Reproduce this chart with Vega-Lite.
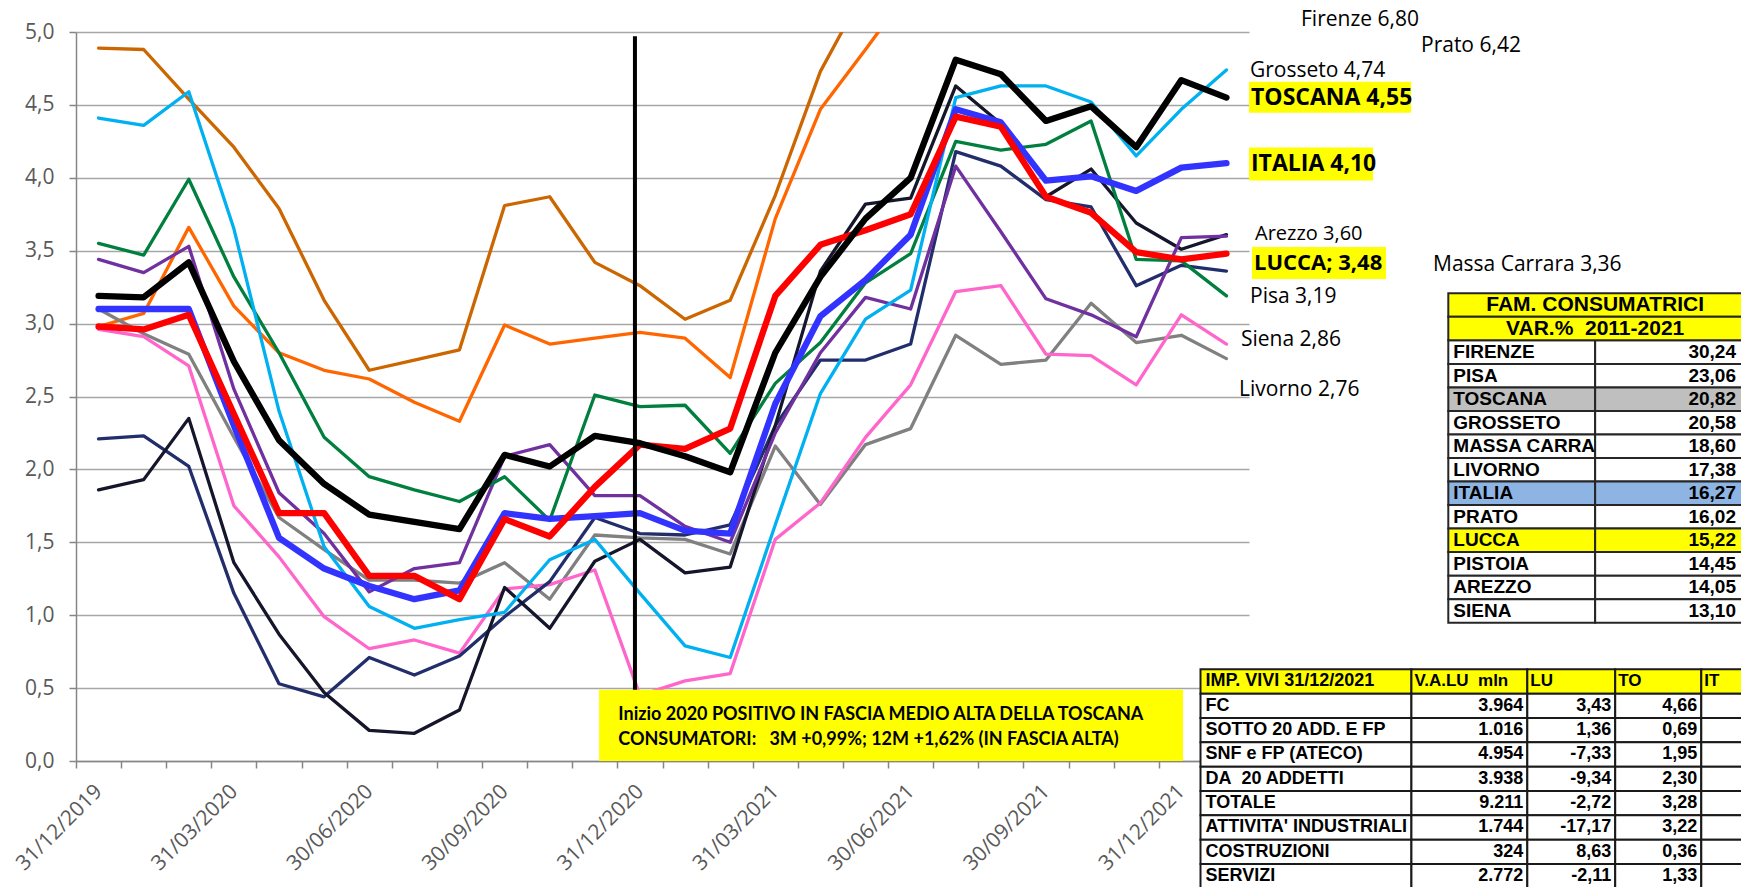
{
  "$schema": "https://vega.github.io/schema/vega-lite/v6.json",
  "width": 1173,
  "height": 729,
  "autosize": "none",
  "padding": {"left": 76, "top": 32, "right": 492, "bottom": 126},
  "background": "#FFFFFF",
  "config": {"view": {"stroke": null}},
  "datasets": {
    "s": [
      {"d":"31/12/2019","Firenze":4.89,"Prato":2.98,"Livorno":3.10,"Siena":2.96,"Massa Carrara":2.21,"Pistoia":1.86,"Arezzo":3.44,"Pisa":3.55,"Grosseto":4.41,"ITALIA":3.10,"LUCCA":2.98,"TOSCANA":3.19},
      {"d":"31/01/2020","Firenze":4.88,"Prato":3.07,"Livorno":2.93,"Siena":2.91,"Massa Carrara":2.23,"Pistoia":1.93,"Arezzo":3.35,"Pisa":3.47,"Grosseto":4.36,"ITALIA":3.10,"LUCCA":2.96,"TOSCANA":3.18},
      {"d":"29/02/2020","Firenze":4.54,"Prato":3.66,"Livorno":2.79,"Siena":2.71,"Massa Carrara":2.02,"Pistoia":2.35,"Arezzo":3.53,"Pisa":3.99,"Grosseto":4.59,"ITALIA":3.10,"LUCCA":3.06,"TOSCANA":3.42},
      {"d":"31/03/2020","Firenze":4.21,"Prato":3.12,"Livorno":2.22,"Siena":1.75,"Massa Carrara":1.15,"Pistoia":1.36,"Arezzo":2.55,"Pisa":3.32,"Grosseto":3.65,"ITALIA":2.30,"LUCCA":2.38,"TOSCANA":2.74},
      {"d":"30/04/2020","Firenze":3.79,"Prato":2.80,"Livorno":1.67,"Siena":1.40,"Massa Carrara":0.53,"Pistoia":0.87,"Arezzo":1.84,"Pisa":2.80,"Grosseto":2.40,"ITALIA":1.53,"LUCCA":1.70,"TOSCANA":2.20},
      {"d":"31/05/2020","Firenze":3.16,"Prato":2.68,"Livorno":1.45,"Siena":0.99,"Massa Carrara":0.44,"Pistoia":0.47,"Arezzo":1.56,"Pisa":2.22,"Grosseto":1.47,"ITALIA":1.32,"LUCCA":1.70,"TOSCANA":1.90},
      {"d":"30/06/2020","Firenze":2.68,"Prato":2.62,"Livorno":1.24,"Siena":0.77,"Massa Carrara":0.71,"Pistoia":0.21,"Arezzo":1.16,"Pisa":1.95,"Grosseto":1.06,"ITALIA":1.20,"LUCCA":1.27,"TOSCANA":1.69},
      {"d":"31/07/2020","Firenze":2.75,"Prato":2.46,"Livorno":1.24,"Siena":0.83,"Massa Carrara":0.59,"Pistoia":0.19,"Arezzo":1.32,"Pisa":1.86,"Grosseto":0.91,"ITALIA":1.11,"LUCCA":1.27,"TOSCANA":1.64},
      {"d":"31/08/2020","Firenze":2.82,"Prato":2.33,"Livorno":1.22,"Siena":0.74,"Massa Carrara":0.72,"Pistoia":0.35,"Arezzo":1.36,"Pisa":1.78,"Grosseto":0.97,"ITALIA":1.17,"LUCCA":1.11,"TOSCANA":1.59},
      {"d":"30/09/2020","Firenze":3.81,"Prato":2.99,"Livorno":1.36,"Siena":1.18,"Massa Carrara":0.99,"Pistoia":1.19,"Arezzo":2.09,"Pisa":1.95,"Grosseto":1.02,"ITALIA":1.70,"LUCCA":1.66,"TOSCANA":2.10},
      {"d":"31/10/2020","Firenze":3.87,"Prato":2.86,"Livorno":1.11,"Siena":1.21,"Massa Carrara":1.23,"Pistoia":0.91,"Arezzo":2.17,"Pisa":1.65,"Grosseto":1.38,"ITALIA":1.66,"LUCCA":1.54,"TOSCANA":2.02},
      {"d":"30/11/2020","Firenze":3.42,"Prato":2.90,"Livorno":1.55,"Siena":1.31,"Massa Carrara":1.67,"Pistoia":1.37,"Arezzo":1.82,"Pisa":2.51,"Grosseto":1.52,"ITALIA":1.68,"LUCCA":1.88,"TOSCANA":2.23},
      {"d":"31/12/2020","Firenze":3.26,"Prato":2.94,"Livorno":1.53,"Siena":0.45,"Massa Carrara":1.56,"Pistoia":1.52,"Arezzo":1.82,"Pisa":2.43,"Grosseto":1.15,"ITALIA":1.70,"LUCCA":2.17,"TOSCANA":2.18},
      {"d":"31/01/2021","Firenze":3.03,"Prato":2.90,"Livorno":1.52,"Siena":0.55,"Massa Carrara":1.55,"Pistoia":1.29,"Arezzo":1.61,"Pisa":2.44,"Grosseto":0.79,"ITALIA":1.58,"LUCCA":2.14,"TOSCANA":2.09},
      {"d":"28/02/2021","Firenze":3.16,"Prato":2.63,"Livorno":1.42,"Siena":0.60,"Massa Carrara":1.62,"Pistoia":1.33,"Arezzo":1.50,"Pisa":2.11,"Grosseto":0.71,"ITALIA":1.56,"LUCCA":2.28,"TOSCANA":1.98},
      {"d":"31/03/2021","Firenze":3.88,"Prato":3.72,"Livorno":2.16,"Siena":1.52,"Massa Carrara":2.30,"Pistoia":2.30,"Arezzo":2.25,"Pisa":2.59,"Grosseto":1.62,"ITALIA":2.45,"LUCCA":3.19,"TOSCANA":2.80},
      {"d":"30/04/2021","Firenze":4.73,"Prato":4.47,"Livorno":1.76,"Siena":1.77,"Massa Carrara":2.75,"Pistoia":3.36,"Arezzo":2.80,"Pisa":2.87,"Grosseto":2.52,"ITALIA":3.05,"LUCCA":3.54,"TOSCANA":3.32},
      {"d":"31/05/2021","Firenze":5.30,"Prato":4.88,"Livorno":2.17,"Siena":2.22,"Massa Carrara":2.75,"Pistoia":3.82,"Arezzo":3.18,"Pisa":3.28,"Grosseto":3.03,"ITALIA":3.30,"LUCCA":3.64,"TOSCANA":3.72},
      {"d":"30/06/2021","Firenze":5.70,"Prato":5.30,"Livorno":2.28,"Siena":2.58,"Massa Carrara":2.86,"Pistoia":3.86,"Arezzo":3.10,"Pisa":3.48,"Grosseto":3.23,"ITALIA":3.61,"LUCCA":3.75,"TOSCANA":4.00},
      {"d":"31/07/2021","Firenze":6.50,"Prato":6.10,"Livorno":2.92,"Siena":3.22,"Massa Carrara":4.18,"Pistoia":4.63,"Arezzo":4.08,"Pisa":4.25,"Grosseto":4.55,"ITALIA":4.47,"LUCCA":4.42,"TOSCANA":4.81},
      {"d":"31/08/2021","Firenze":6.60,"Prato":6.20,"Livorno":2.72,"Siena":3.26,"Massa Carrara":4.08,"Pistoia":4.37,"Arezzo":3.63,"Pisa":4.19,"Grosseto":4.63,"ITALIA":4.38,"LUCCA":4.35,"TOSCANA":4.71},
      {"d":"30/09/2021","Firenze":6.40,"Prato":6.00,"Livorno":2.75,"Siena":2.79,"Massa Carrara":3.85,"Pistoia":3.87,"Arezzo":3.17,"Pisa":4.23,"Grosseto":4.63,"ITALIA":3.98,"LUCCA":3.87,"TOSCANA":4.39},
      {"d":"31/10/2021","Firenze":6.60,"Prato":6.20,"Livorno":3.14,"Siena":2.78,"Massa Carrara":3.80,"Pistoia":4.06,"Arezzo":3.06,"Pisa":4.39,"Grosseto":4.52,"ITALIA":4.01,"LUCCA":3.76,"TOSCANA":4.49},
      {"d":"30/11/2021","Firenze":6.30,"Prato":5.90,"Livorno":2.87,"Siena":2.58,"Massa Carrara":3.26,"Pistoia":3.69,"Arezzo":2.91,"Pisa":3.44,"Grosseto":4.15,"ITALIA":3.91,"LUCCA":3.49,"TOSCANA":4.21},
      {"d":"31/12/2021","Firenze":6.90,"Prato":6.50,"Livorno":2.92,"Siena":3.06,"Massa Carrara":3.40,"Pistoia":3.51,"Arezzo":3.59,"Pisa":3.43,"Grosseto":4.47,"ITALIA":4.07,"LUCCA":3.44,"TOSCANA":4.67},
      {"d":"31/01/2022","Firenze":6.80,"Prato":6.42,"Livorno":2.76,"Siena":2.86,"Massa Carrara":3.36,"Pistoia":3.61,"Arezzo":3.60,"Pisa":3.19,"Grosseto":4.74,"ITALIA":4.10,"LUCCA":3.48,"TOSCANA":4.55}
    ],
    "t1": [
      {"r":"FIRENZE","v":"30,24"},{"r":"PISA","v":"23,06"},{"r":"TOSCANA","v":"20,82"},{"r":"GROSSETO","v":"20,58"},
      {"r":"MASSA CARRARA","v":"18,60"},{"r":"LIVORNO","v":"17,38"},{"r":"ITALIA","v":"16,27"},{"r":"PRATO","v":"16,02"},
      {"r":"LUCCA","v":"15,22"},{"r":"PISTOIA","v":"14,45"},{"r":"AREZZO","v":"14,05"},{"r":"SIENA","v":"13,10"}
    ],
    "t1h": [
      {"r":"H1","t":"FAM. CONSUMATRICI"},{"r":"H2","t":"VAR.%\u00a0\u00a02011-2021"}
    ],
    "t2": [
      {"r":"IMP. VIVI 31/12/2021","a":"V.A.LU\u00a0\u00a0mln","b":"LU","c":"TO","e":"IT"},
      {"r":"FC","a":"3.964","b":"3,43","c":"4,66","e":""},
      {"r":"SOTTO 20 ADD. E FP","a":"1.016","b":"1,36","c":"0,69","e":""},
      {"r":"SNF e FP (ATECO)","a":"4.954","b":"-7,33","c":"1,95","e":""},
      {"r":"DA\u00a0\u00a020 ADDETTI","a":"3.938","b":"-9,34","c":"2,30","e":""},
      {"r":"TOTALE","a":"9.211","b":"-2,72","c":"3,28","e":""},
      {"r":"ATTIVITA' INDUSTRIALI","a":"1.744","b":"-17,17","c":"3,22","e":""},
      {"r":"COSTRUZIONI","a":"324","b":"8,63","c":"0,36","e":""},
      {"r":"SERVIZI","a":"2.772","b":"-2,11","c":"1,33","e":""}
    ]
  },
  "layer": [
    {
      "layer": [
        {
          "data": {"name": "s"},
          "transform": [{"fold": ["Firenze","Prato","Livorno","Siena","Massa Carrara","Pistoia","Arezzo","Pisa","Grosseto"], "as": ["serie","v"]}],
          "mark": {"type": "line", "strokeWidth": 3.3, "clip": true, "strokeJoin": "round", "strokeCap": "round"},
          "encoding": {
            "x": {"field": "d", "type": "ordinal", "bandPosition": 0.5,
                  "scale": {"type": "band", "paddingInner": 0, "paddingOuter": 0,
                            "domain": ["31/12/2019","31/01/2020","29/02/2020","31/03/2020","30/04/2020","31/05/2020","30/06/2020","31/07/2020","31/08/2020","30/09/2020","31/10/2020","30/11/2020","31/12/2020","31/01/2021","28/02/2021","31/03/2021","30/04/2021","31/05/2021","30/06/2021","31/07/2021","31/08/2021","30/09/2021","31/10/2021","30/11/2021","31/12/2021","31/01/2022"]},
                  "axis": {"title": null, "tickBand": "extent", "labelAngle": -45, "labelOverlap": false,
                           "labelAlign": "right", "labelBaseline": "middle", "labelOffset": 0, "labelPadding": 20,
                           "labelExpr": "indexof(['03','06','09','12'], substring(datum.value, 3, 5)) >= 0 ? datum.value : ''",
                           "labelFont": "Open Sans", "labelFontSize": 21, "labelColor": "#595959",
                           "tickSize": 7, "tickColor": "#868686", "tickWidth": 1.5,
                           "domainColor": "#868686", "domainWidth": 1.5, "grid": false}},
            "y": {"field": "v", "type": "quantitative",
                  "scale": {"domain": [0, 5], "nice": false},
                  "axis": {"title": null, "values": [0,0.5,1,1.5,2,2.5,3,3.5,4,4.5,5],
                           "labelExpr": "replace(format(datum.value, '.1f'), '.', ',')",
                           "labelFont": "Open Sans", "labelFontSize": 21, "labelColor": "#595959",
                           "grid": true, "gridColor": "#A6A6A6", "gridWidth": 1.7,
                           "tickSize": 7, "tickColor": "#868686", "tickWidth": 1.5,
                           "domainColor": "#868686", "domainWidth": 1.5, "labelPadding": 15}},
            "color": {"field": "serie", "type": "nominal", "legend": null,
                      "scale": {"domain": ["Firenze","Prato","Livorno","Siena","Massa Carrara","Pistoia","Arezzo","Pisa","Grosseto","ITALIA","LUCCA","TOSCANA"],
                                "range": ["#CC6600","#FF6600","#808080","#FF66CC","#222E6B","#15152B","#7030A0","#007F3F","#00B0F0","#3333FF","#FF0000","#000000"]}}
          }
        },
        {
          "data": {"name": "s"},
          "transform": [{"fold": ["ITALIA","LUCCA","TOSCANA"], "as": ["serie","v"]}],
          "mark": {"type": "line", "strokeWidth": 6.3, "clip": true, "strokeJoin": "round", "strokeCap": "round"},
          "encoding": {
            "x": {"field": "d", "type": "ordinal", "bandPosition": 0.5},
            "y": {"field": "v", "type": "quantitative"},
            "color": {"field": "serie", "type": "nominal", "legend": null}
          }
        },
        {
          "data": {"values": [{}]},
          "mark": {"type": "rule", "color": "#000000", "strokeWidth": 4, "xOffset": -5},
          "encoding": {
            "x": {"datum": "31/12/2020", "type": "ordinal", "bandPosition": 0.5},
            "y": {"datum": 0, "type": "quantitative"},
            "y2": {"datum": 4.97}
          }
        },
        {
          "data": {"values": [{}]},
          "mark": {"type": "rect", "color": "#FFFF00"},
          "encoding": {
            "x": {"datum": "30/11/2020", "type": "ordinal", "bandPosition": 0.594},
            "x2": {"datum": "31/12/2021", "bandPosition": 0.537},
            "y": {"datum": 0.489, "type": "quantitative"},
            "y2": {"datum": 0}
          }
        },
        {
          "data": {"values": [{}]},
          "mark": {"type": "text", "text": "Inizio 2020 POSITIVO IN FASCIA MEDIO ALTA DELLA TOSCANA", "align": "left", "baseline": "middle", "font": "Lato", "fontWeight": "bold", "fontSize": 18, "color": "#000000"},
          "encoding": {
            "x": {"datum": "31/12/2020", "type": "ordinal", "bandPosition": 0.02},
            "y": {"datum": 0.318, "type": "quantitative"}
          }
        },
        {
          "data": {"values": [{}]},
          "mark": {"type": "text", "text": "CONSUMATORI:\u00a0\u00a0\u00a03M +0,99%; 12M +1,62% (IN FASCIA ALTA)", "align": "left", "baseline": "middle", "font": "Lato", "fontWeight": "bold", "fontSize": 18, "color": "#000000"},
          "encoding": {
            "x": {"datum": "31/12/2020", "type": "ordinal", "bandPosition": 0.02},
            "y": {"datum": 0.146, "type": "quantitative"}
          }
        },
        {
          "data": {"values": [{}]},
          "mark": {"type": "rect", "color": "#FFFF00", "x2Offset": 162},
          "encoding": {
            "x": {"datum": "31/01/2022", "type": "ordinal", "bandPosition": 1},
            "x2": {"datum": "31/01/2022", "bandPosition": 1},
            "y": {"datum": 4.658, "type": "quantitative"},
            "y2": {"datum": 4.446}
          }
        },
        {
          "data": {"values": [{}]},
          "mark": {"type": "rect", "color": "#FFFF00", "x2Offset": 124},
          "encoding": {
            "x": {"datum": "31/01/2022", "type": "ordinal", "bandPosition": 1},
            "x2": {"datum": "31/01/2022", "bandPosition": 1},
            "y": {"datum": 4.207, "type": "quantitative"},
            "y2": {"datum": 3.981}
          }
        },
        {
          "data": {"values": [{}]},
          "mark": {"type": "rect", "color": "#FFFF00", "xOffset": 3, "x2Offset": 137},
          "encoding": {
            "x": {"datum": "31/01/2022", "type": "ordinal", "bandPosition": 1},
            "x2": {"datum": "31/01/2022", "bandPosition": 1},
            "y": {"datum": 3.525, "type": "quantitative"},
            "y2": {"datum": 3.306}
          }
        },
        {"data": {"values": [{}]}, "mark": {"type": "text", "text": "Firenze 6,80", "align": "left", "baseline": "middle", "dx": 52, "font": "Open Sans", "fontSize": 21, "color": "#000000"},
         "encoding": {"x": {"datum": "31/01/2022", "type": "ordinal", "bandPosition": 1}, "y": {"datum": 5.085, "type": "quantitative"}}},
        {"data": {"values": [{}]}, "mark": {"type": "text", "text": "Prato 6,42", "align": "left", "baseline": "middle", "dx": 172, "font": "Open Sans", "fontSize": 21, "color": "#000000"},
         "encoding": {"x": {"datum": "31/01/2022", "type": "ordinal", "bandPosition": 1}, "y": {"datum": 4.907, "type": "quantitative"}}},
        {"data": {"values": [{}]}, "mark": {"type": "text", "text": "Grosseto 4,74", "align": "left", "baseline": "middle", "dx": 1, "font": "Open Sans", "fontSize": 21, "color": "#000000"},
         "encoding": {"x": {"datum": "31/01/2022", "type": "ordinal", "bandPosition": 1}, "y": {"datum": 4.735, "type": "quantitative"}}},
        {"data": {"values": [{}]}, "mark": {"type": "text", "text": "TOSCANA 4,55", "align": "left", "baseline": "middle", "dx": 2, "font": "Open Sans", "fontWeight": "bold", "fontSize": 23, "color": "#000000"},
         "encoding": {"x": {"datum": "31/01/2022", "type": "ordinal", "bandPosition": 1}, "y": {"datum": 4.549, "type": "quantitative"}}},
        {"data": {"values": [{}]}, "mark": {"type": "text", "text": "ITALIA 4,10", "align": "left", "baseline": "middle", "dx": 2, "font": "Open Sans", "fontWeight": "bold", "fontSize": 23, "color": "#000000"},
         "encoding": {"x": {"datum": "31/01/2022", "type": "ordinal", "bandPosition": 1}, "y": {"datum": 4.097, "type": "quantitative"}}},
        {"data": {"values": [{}]}, "mark": {"type": "text", "text": "Arezzo 3,60", "align": "left", "baseline": "middle", "dx": 6, "font": "Open Sans", "fontSize": 20, "color": "#000000"},
         "encoding": {"x": {"datum": "31/01/2022", "type": "ordinal", "bandPosition": 1}, "y": {"datum": 3.615, "type": "quantitative"}}},
        {"data": {"values": [{}]}, "mark": {"type": "text", "text": "LUCCA; 3,48", "align": "left", "baseline": "middle", "dx": 5, "font": "Open Sans", "fontWeight": "bold", "fontSize": 22, "color": "#000000"},
         "encoding": {"x": {"datum": "31/01/2022", "type": "ordinal", "bandPosition": 1}, "y": {"datum": 3.415, "type": "quantitative"}}},
        {"data": {"values": [{}]}, "mark": {"type": "text", "text": "Massa Carrara 3,36", "align": "left", "baseline": "middle", "dx": 184, "font": "Open Sans", "fontSize": 21, "color": "#000000"},
         "encoding": {"x": {"datum": "31/01/2022", "type": "ordinal", "bandPosition": 1}, "y": {"datum": 3.404, "type": "quantitative"}}},
        {"data": {"values": [{}]}, "mark": {"type": "text", "text": "Pisa 3,19", "align": "left", "baseline": "middle", "dx": 1, "font": "Open Sans", "fontSize": 21, "color": "#000000"},
         "encoding": {"x": {"datum": "31/01/2022", "type": "ordinal", "bandPosition": 1}, "y": {"datum": 3.18, "type": "quantitative"}}},
        {"data": {"values": [{}]}, "mark": {"type": "text", "text": "Siena 2,86", "align": "left", "baseline": "middle", "dx": -8, "font": "Open Sans", "fontSize": 21, "color": "#000000"},
         "encoding": {"x": {"datum": "31/01/2022", "type": "ordinal", "bandPosition": 1}, "y": {"datum": 2.89, "type": "quantitative"}}},
        {"data": {"values": [{}]}, "mark": {"type": "text", "text": "Livorno 2,76", "align": "left", "baseline": "middle", "dx": -10, "font": "Open Sans", "fontSize": 21, "color": "#000000"},
         "encoding": {"x": {"datum": "31/01/2022", "type": "ordinal", "bandPosition": 1}, "y": {"datum": 2.547, "type": "quantitative"}}}
      ]
    },
    {
      "layer": [
        {
          "data": {"name": "t1"},
          "mark": {"type": "rect", "stroke": "#262626", "strokeWidth": 2},
          "encoding": {
            "x": {"datum": 0, "type": "quantitative", "scale": {"domain": [0, 100], "range": [1372.3, 1666]}, "axis": null},
            "x2": {"datum": 50},
            "y": {"field": "r", "type": "nominal", "axis": null,
                  "scale": {"type": "band", "paddingInner": 0, "paddingOuter": 0, "range": [261.3, 590.7],
                            "domain": ["H1","H2","FIRENZE","PISA","TOSCANA","GROSSETO","MASSA CARRARA","LIVORNO","ITALIA","PRATO","LUCCA","PISTOIA","AREZZO","SIENA"]}},
            "fill": {"condition": [{"test": "datum.r === 'TOSCANA'", "value": "#BFBFBF"}, {"test": "datum.r === 'ITALIA'", "value": "#8DB4E2"}, {"test": "datum.r === 'LUCCA'", "value": "#FFFF00"}], "value": "#FFFFFF"}
          }
        },
        {
          "data": {"name": "t1"},
          "mark": {"type": "rect", "stroke": "#262626", "strokeWidth": 2},
          "encoding": {
            "x": {"datum": 50, "type": "quantitative", "axis": null},
            "x2": {"datum": 100},
            "y": {"field": "r", "type": "nominal", "axis": null},
            "fill": {"condition": [{"test": "datum.r === 'TOSCANA'", "value": "#BFBFBF"}, {"test": "datum.r === 'ITALIA'", "value": "#8DB4E2"}, {"test": "datum.r === 'LUCCA'", "value": "#FFFF00"}], "value": "#FFFFFF"}
          }
        },
        {
          "data": {"name": "t1h"},
          "mark": {"type": "rect", "fill": "#FFFF00", "stroke": "#262626", "strokeWidth": 2},
          "encoding": {
            "x": {"datum": 0, "type": "quantitative", "axis": null},
            "x2": {"datum": 100},
            "y": {"field": "r", "type": "nominal", "axis": null}
          }
        },
        {
          "data": {"name": "t1"},
          "mark": {"type": "text", "align": "left", "baseline": "middle", "dx": 5, "font": "Liberation Sans", "fontWeight": "bold", "fontSize": 19, "color": "#000000", "limit": 143, "ellipsis": "\u200b"},
          "encoding": {
            "x": {"datum": 0, "type": "quantitative", "axis": null},
            "y": {"field": "r", "type": "nominal", "bandPosition": 0.5, "axis": null},
            "text": {"field": "r"}
          }
        },
        {
          "data": {"name": "t1"},
          "mark": {"type": "text", "align": "right", "baseline": "middle", "dx": -6, "font": "Liberation Sans", "fontWeight": "bold", "fontSize": 19, "color": "#000000"},
          "encoding": {
            "x": {"datum": 100, "type": "quantitative", "axis": null},
            "y": {"field": "r", "type": "nominal", "bandPosition": 0.5, "axis": null},
            "text": {"field": "v"}
          }
        },
        {
          "data": {"name": "t1h"},
          "mark": {"type": "text", "align": "center", "baseline": "middle", "font": "Liberation Sans", "fontWeight": "bold", "fontSize": 21, "color": "#000000"},
          "encoding": {
            "x": {"datum": 50, "type": "quantitative", "axis": null},
            "y": {"field": "r", "type": "nominal", "bandPosition": 0.5, "axis": null},
            "text": {"field": "t"}
          }
        }
      ]
    },
    {
      "data": {"name": "t2"},
      "layer": [
        {
          "mark": {"type": "rect", "stroke": "#1A1A1A", "strokeWidth": 2},
          "encoding": {
            "x": {"datum": 0, "type": "quantitative", "scale": {"domain": [0, 100], "range": [1124.5, 1714]}, "axis": null},
            "x2": {"datum": 35.78},
            "y": {"field": "r", "type": "nominal", "axis": null,
                  "scale": {"type": "band", "paddingInner": 0, "paddingOuter": 0, "range": [637.3, 856.3],
                            "domain": ["IMP. VIVI 31/12/2021","FC","SOTTO 20 ADD. E FP","SNF e FP (ATECO)","DA\u00a0\u00a020 ADDETTI","TOTALE","ATTIVITA' INDUSTRIALI","COSTRUZIONI","SERVIZI"]}},
            "fill": {"condition": {"test": "datum.r === 'IMP. VIVI 31/12/2021'", "value": "#FFFF00"}, "value": "#FFFFFF"}
          }
        },
        {
          "mark": {"type": "rect", "stroke": "#1A1A1A", "strokeWidth": 2},
          "encoding": {
            "x": {"datum": 35.78, "type": "quantitative", "axis": null},
            "x2": {"datum": 55.44},
            "y": {"field": "r", "type": "nominal", "axis": null},
            "fill": {"condition": {"test": "datum.r === 'IMP. VIVI 31/12/2021'", "value": "#FFFF00"}, "value": "#FFFFFF"}
          }
        },
        {
          "mark": {"type": "rect", "stroke": "#1A1A1A", "strokeWidth": 2},
          "encoding": {
            "x": {"datum": 55.44, "type": "quantitative", "axis": null},
            "x2": {"datum": 70.35},
            "y": {"field": "r", "type": "nominal", "axis": null},
            "fill": {"condition": {"test": "datum.r === 'IMP. VIVI 31/12/2021'", "value": "#FFFF00"}, "value": "#FFFFFF"}
          }
        },
        {
          "mark": {"type": "rect", "stroke": "#1A1A1A", "strokeWidth": 2},
          "encoding": {
            "x": {"datum": 70.35, "type": "quantitative", "axis": null},
            "x2": {"datum": 84.95},
            "y": {"field": "r", "type": "nominal", "axis": null},
            "fill": {"condition": {"test": "datum.r === 'IMP. VIVI 31/12/2021'", "value": "#FFFF00"}, "value": "#FFFFFF"}
          }
        },
        {
          "mark": {"type": "rect", "stroke": "#1A1A1A", "strokeWidth": 2},
          "encoding": {
            "x": {"datum": 84.95, "type": "quantitative", "axis": null},
            "x2": {"datum": 100},
            "y": {"field": "r", "type": "nominal", "axis": null},
            "fill": {"condition": {"test": "datum.r === 'IMP. VIVI 31/12/2021'", "value": "#FFFF00"}, "value": "#FFFFFF"}
          }
        },
        {
          "mark": {"type": "text", "align": "left", "baseline": "middle", "dx": 5, "font": "Liberation Sans", "fontWeight": "bold", "fontSize": 18, "color": "#000000", "limit": 204, "ellipsis": "\u200b"},
          "encoding": {
            "x": {"datum": 0, "type": "quantitative", "axis": null},
            "y": {"field": "r", "type": "nominal", "bandPosition": 0.5, "axis": null},
            "text": {"field": "r"}
          }
        },
        {
          "transform": [{"filter": "datum.r === 'IMP. VIVI 31/12/2021'"}],
          "mark": {"type": "text", "align": "left", "baseline": "middle", "dx": 3, "font": "Liberation Sans", "fontWeight": "bold", "fontSize": 17, "color": "#000000"},
          "encoding": {
            "x": {"datum": 35.78, "type": "quantitative", "axis": null},
            "y": {"field": "r", "type": "nominal", "bandPosition": 0.5, "axis": null},
            "text": {"field": "a"}
          }
        },
        {
          "transform": [{"filter": "datum.r !== 'IMP. VIVI 31/12/2021'"}],
          "mark": {"type": "text", "align": "right", "baseline": "middle", "dx": -4, "font": "Liberation Sans", "fontWeight": "bold", "fontSize": 18, "color": "#000000"},
          "encoding": {
            "x": {"datum": 55.44, "type": "quantitative", "axis": null},
            "y": {"field": "r", "type": "nominal", "bandPosition": 0.5, "axis": null},
            "text": {"field": "a"}
          }
        },
        {
          "transform": [{"filter": "datum.r === 'IMP. VIVI 31/12/2021'"}],
          "mark": {"type": "text", "align": "left", "baseline": "middle", "dx": 3, "font": "Liberation Sans", "fontWeight": "bold", "fontSize": 17, "color": "#000000"},
          "encoding": {
            "x": {"datum": 55.44, "type": "quantitative", "axis": null},
            "y": {"field": "r", "type": "nominal", "bandPosition": 0.5, "axis": null},
            "text": {"field": "b"}
          }
        },
        {
          "transform": [{"filter": "datum.r !== 'IMP. VIVI 31/12/2021'"}],
          "mark": {"type": "text", "align": "right", "baseline": "middle", "dx": -4, "font": "Liberation Sans", "fontWeight": "bold", "fontSize": 18, "color": "#000000"},
          "encoding": {
            "x": {"datum": 70.35, "type": "quantitative", "axis": null},
            "y": {"field": "r", "type": "nominal", "bandPosition": 0.5, "axis": null},
            "text": {"field": "b"}
          }
        },
        {
          "transform": [{"filter": "datum.r === 'IMP. VIVI 31/12/2021'"}],
          "mark": {"type": "text", "align": "left", "baseline": "middle", "dx": 3, "font": "Liberation Sans", "fontWeight": "bold", "fontSize": 17, "color": "#000000"},
          "encoding": {
            "x": {"datum": 70.35, "type": "quantitative", "axis": null},
            "y": {"field": "r", "type": "nominal", "bandPosition": 0.5, "axis": null},
            "text": {"field": "c"}
          }
        },
        {
          "transform": [{"filter": "datum.r !== 'IMP. VIVI 31/12/2021'"}],
          "mark": {"type": "text", "align": "right", "baseline": "middle", "dx": -4, "font": "Liberation Sans", "fontWeight": "bold", "fontSize": 18, "color": "#000000"},
          "encoding": {
            "x": {"datum": 84.95, "type": "quantitative", "axis": null},
            "y": {"field": "r", "type": "nominal", "bandPosition": 0.5, "axis": null},
            "text": {"field": "c"}
          }
        },
        {
          "transform": [{"filter": "datum.r === 'IMP. VIVI 31/12/2021'"}],
          "mark": {"type": "text", "align": "left", "baseline": "middle", "dx": 3, "font": "Liberation Sans", "fontWeight": "bold", "fontSize": 17, "color": "#000000"},
          "encoding": {
            "x": {"datum": 84.95, "type": "quantitative", "axis": null},
            "y": {"field": "r", "type": "nominal", "bandPosition": 0.5, "axis": null},
            "text": {"field": "e"}
          }
        }
      ]
    }
  ],
  "resolve": {"scale": {"x": "independent", "y": "independent"}}
}
